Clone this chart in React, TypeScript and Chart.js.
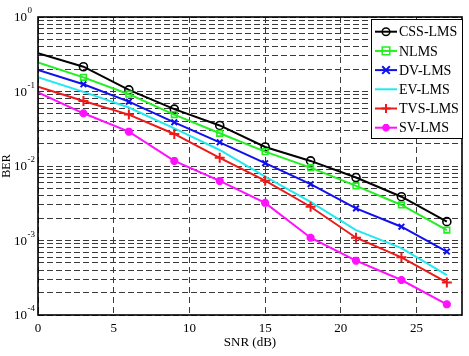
import React, { useEffect, useRef } from "react";
import { Chart, registerables } from "chart.js";

Chart.register(...registerables);

// SNR sweep (dB) and measured bit error rates per algorithm
const snr = [0, 3, 6, 9, 12, 15, 18, 21, 24, 27];
const cssLms = [0.326, 0.215, 0.105, 0.058, 0.035, 0.018, 0.0117, 0.007, 0.00387, 0.00179];
const nlms = [0.246, 0.155, 0.092, 0.049, 0.0275, 0.0156, 0.0095, 0.0054, 0.003, 0.00138];
const dvLms = [0.194, 0.125, 0.073, 0.0386, 0.0208, 0.0109, 0.0057, 0.0027, 0.00153, 0.00071];
const evLms = [0.155, 0.099, 0.061, 0.032, 0.0164, 0.0072, 0.0033, 0.00138, 0.00079, 0.000344];
const tvsLms = [0.116, 0.0745, 0.049, 0.0269, 0.0129, 0.00635, 0.00284, 0.00109, 0.000594, 0.000274];
const svLms = [0.0975, 0.051, 0.0289, 0.0117, 0.0063, 0.0032, 0.00109, 0.000536, 0.000295, 0.000139];

const seriesNames = ["CSS-LMS", "NLMS", "DV-LMS", "EV-LMS", "TVS-LMS", "SV-LMS"];
const seriesValues = [cssLms, nlms, dvLms, evLms, tvsLms, svLms];
const seriesColors = ["#000000", "#22ee22", "#1010ee", "#22e8f0", "#ee1a1a", "#ff10ff"];
const seriesMarkers = ["circle", "rect", "crossRot", "none", "cross", "star"];
const decadeExponents = [0, -1, -2, -3, -4];

const FONT = '"Times New Roman", "Liberation Serif", serif';

function drawMarker(ctx: CanvasRenderingContext2D, style: string, x: number, y: number, r: number) {
  ctx.beginPath();
  if (style === "circle") {
    ctx.arc(x, y, r, 0, Math.PI * 2);
  } else if (style === "rect") {
    ctx.rect(x - r, y - r, 2 * r, 2 * r);
  } else if (style === "crossRot") {
    ctx.moveTo(x - r, y - r); ctx.lineTo(x + r, y + r);
    ctx.moveTo(x + r, y - r); ctx.lineTo(x - r, y + r);
  } else if (style === "cross") {
    ctx.moveTo(x - r, y); ctx.lineTo(x + r, y);
    ctx.moveTo(x, y - r); ctx.lineTo(x, y + r);
  } else if (style === "star") {
    ctx.moveTo(x - r, y); ctx.lineTo(x + r, y);
    ctx.moveTo(x, y - r); ctx.lineTo(x, y + r);
    const d = r * 0.707;
    ctx.moveTo(x - d, y - d); ctx.lineTo(x + d, y + d);
    ctx.moveTo(x + d, y - d); ctx.lineTo(x - d, y + d);
  } else {
    return;
  }
  ctx.stroke();
}

const decorations = {
  id: "berDecorations",
  afterDraw(chart: any) {
    const { ctx, chartArea } = chart;
    const yScale = chart.scales.y;
    ctx.save();
    ctx.setLineDash([]);
    // axes box
    ctx.strokeStyle = "#000";
    ctx.lineWidth = 1.6;
    ctx.strokeRect(chartArea.left, chartArea.top, chartArea.right - chartArea.left, chartArea.bottom - chartArea.top);

    // power-of-ten labels on the BER axis
    ctx.fillStyle = "#000";
    for (const e of decadeExponents) {
      const y = yScale.getPixelForValue(Math.pow(10, e));
      ctx.font = `13px ${FONT}`;
      ctx.textAlign = "right";
      ctx.textBaseline = "middle";
      ctx.fillText("10", 27, y + 1);
      ctx.font = `9px ${FONT}`;
      ctx.textAlign = "left";
      ctx.fillText(String(e), 27.5, y - 6);
    }

    // legend
    const lx = 371, ly = 19, lw = 91, lh = 119;
    ctx.fillStyle = "#fff";
    ctx.fillRect(lx, ly, lw, lh);
    ctx.strokeStyle = "#000";
    ctx.lineWidth = 1;
    ctx.strokeRect(lx + 0.5, ly + 0.5, lw, lh);
    ctx.font = `14px ${FONT}`;
    ctx.textAlign = "left";
    ctx.textBaseline = "middle";
    seriesNames.forEach((name, i) => {
      const y = 31.7 + i * 19.2;
      ctx.strokeStyle = seriesColors[i];
      ctx.lineWidth = 2;
      ctx.beginPath();
      ctx.moveTo(375, y);
      ctx.lineTo(397, y);
      ctx.stroke();
      const m = seriesMarkers[i];
      ctx.lineWidth = m === "star" ? 2.6 : m === "circle" || m === "rect" ? 1.5 : 2;
      drawMarker(ctx, m, 386, y, m === "cross" ? 4.5 : 3.8);
      ctx.fillStyle = "#000";
      ctx.fillText(name, 399, y + 1);
    });
    ctx.restore();
  },
};

export default function App() {
  const canvasRef = useRef<HTMLCanvasElement | null>(null);

  useEffect(() => {
    document.body.style.margin = "0";
    const canvas = canvasRef.current;
    if (!canvas) return;

    const datasets = seriesNames.map((name, i) => {
      const marker = seriesMarkers[i];
      const radius = marker === "none" ? 0 : marker === "cross" ? 5 : 4;
      return {
        label: name,
        data: snr.map((x, k) => ({ x, y: seriesValues[i][k] })),
        borderColor: seriesColors[i],
        backgroundColor: "transparent",
        borderWidth: 2,
        pointStyle: marker === "none" ? "circle" : marker,
        pointRadius: (c: any) => (c.dataIndex === 0 ? 0 : radius),
        pointBorderWidth: marker === "star" ? 2.8 : marker === "circle" || marker === "rect" ? 1.6 : 2,
        pointBorderColor: seriesColors[i],
        pointBackgroundColor: "transparent",
        tension: 0,
        order: seriesNames.length - i,
      };
    });

    const yTicks: number[] = [];
    for (let e = -4; e < 0; e++) {
      for (let m = 1; m <= 9; m++) yTicks.push(m * Math.pow(10, e));
    }
    yTicks.push(1);

    const chart = new Chart(canvas, {
      type: "line",
      data: { datasets },
      options: {
        animation: false,
        responsive: false,
        devicePixelRatio: 1,
        layout: { padding: { left: 0, right: 4, top: 17, bottom: 0 } },
        plugins: {
          legend: { display: false },
          tooltip: { enabled: false },
        },
        scales: {
          x: {
            type: "linear",
            min: 0,
            max: 28,
            border: { display: false, dash: [6, 4] },
            grid: { color: "#3a3a3a", lineWidth: 1, drawTicks: false },
            ticks: {
              stepSize: 5,
              includeBounds: false,
              padding: 6,
              color: "#000",
              font: { family: FONT, size: 13 },
            },
            title: {
              display: true,
              text: "SNR (dB)",
              color: "#000",
              font: { family: FONT, size: 13 },
              padding: { top: 0, bottom: 6 },
            },
            afterFit: (s: any) => {
              s.height = 41;
            },
          },
          y: {
            type: "logarithmic",
            min: 1e-4,
            max: 1,
            border: { display: false, dash: [6, 3] },
            grid: { color: "#3a3a3a", lineWidth: 1, drawTicks: false },
            ticks: { display: false, autoSkip: false },
            afterBuildTicks: (s: any) => {
              s.ticks = yTicks.map((v) => ({ value: v }));
            },
            title: {
              display: true,
              text: "BER",
              color: "#000",
              font: { family: FONT, size: 12 },
              padding: { top: 0, bottom: 0 },
            },
            afterFit: (s: any) => {
              s.width = 38;
            },
          },
        },
      },
      plugins: [decorations],
    } as any);

    return () => chart.destroy();
  }, []);

  return (
    <div style={{ width: 469, height: 356 }}>
      <canvas ref={canvasRef} width={469} height={356} style={{ display: "block" }} />
    </div>
  );
}
